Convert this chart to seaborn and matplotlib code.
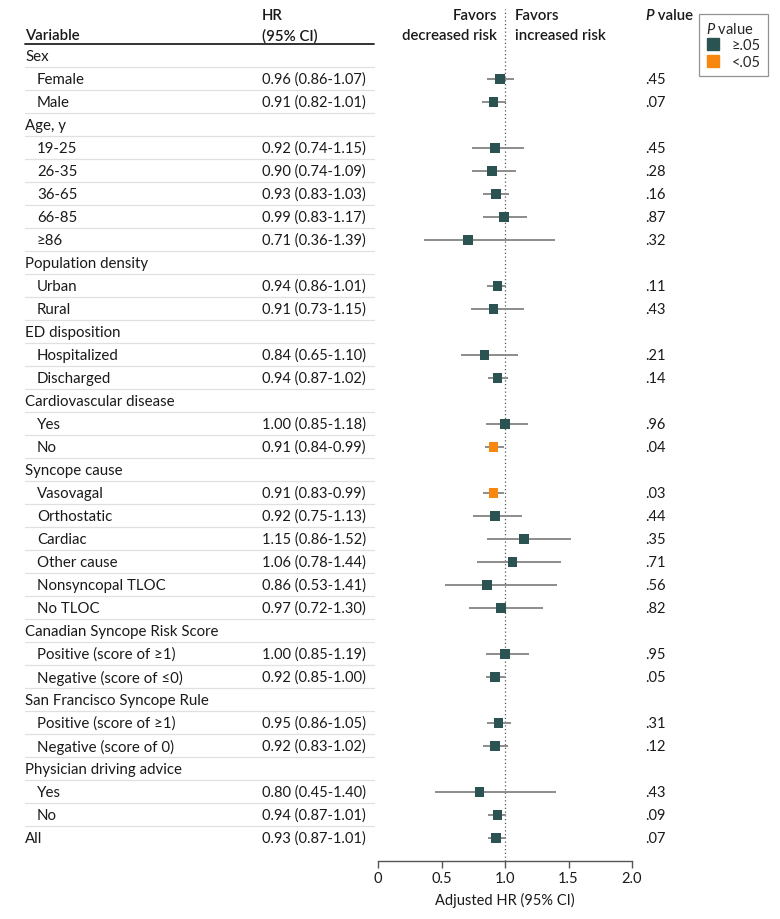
import numpy as np
import pandas as pd
import matplotlib
matplotlib.use("Agg")
import matplotlib.pyplot as plt
import matplotlib.transforms as mtransforms
from matplotlib.lines import Line2D
import seaborn as sns

# Rows of the forest plot (level 0 = group heading, 1 = subgroup)
labels = ["Sex", "Female", "Male",
          "Age, y", "19-25", "26-35", "36-65", "66-85", "\u226586",
          "Population density", "Urban", "Rural",
          "ED disposition", "Hospitalized", "Discharged",
          "Cardiovascular disease", "Yes", "No",
          "Syncope cause", "Vasovagal", "Orthostatic", "Cardiac", "Other cause",
          "Nonsyncopal TLOC", "No TLOC",
          "Canadian Syncope Risk Score", "Positive (score of \u22651)", "Negative (score of \u22640)",
          "San Francisco Syncope Rule", "Positive (score of \u22651)", "Negative (score of 0)",
          "Physician driving advice", "Yes", "No",
          "All"]
levels = [0, 1, 1,
          0, 1, 1, 1, 1, 1,
          0, 1, 1,
          0, 1, 1,
          0, 1, 1,
          0, 1, 1, 1, 1, 1, 1,
          0, 1, 1,
          0, 1, 1,
          0, 1, 1,
          0]
nan = np.nan
hr = [nan, 0.96, 0.91,
      nan, 0.92, 0.90, 0.93, 0.99, 0.71,
      nan, 0.94, 0.91,
      nan, 0.84, 0.94,
      nan, 1.00, 0.91,
      nan, 0.91, 0.92, 1.15, 1.06, 0.86, 0.97,
      nan, 1.00, 0.92,
      nan, 0.95, 0.92,
      nan, 0.80, 0.94,
      0.93]
ci_low = [nan, 0.86, 0.82,
          nan, 0.74, 0.74, 0.83, 0.83, 0.36,
          nan, 0.86, 0.73,
          nan, 0.65, 0.87,
          nan, 0.85, 0.84,
          nan, 0.83, 0.75, 0.86, 0.78, 0.53, 0.72,
          nan, 0.85, 0.85,
          nan, 0.86, 0.83,
          nan, 0.45, 0.87,
          0.87]
ci_high = [nan, 1.07, 1.01,
           nan, 1.15, 1.09, 1.03, 1.17, 1.39,
           nan, 1.01, 1.15,
           nan, 1.10, 1.02,
           nan, 1.18, 0.99,
           nan, 0.99, 1.13, 1.52, 1.44, 1.41, 1.30,
           nan, 1.19, 1.00,
           nan, 1.05, 1.02,
           nan, 1.40, 1.01,
           1.01]
p_text = ["", ".45", ".07",
          "", ".45", ".28", ".16", ".87", ".32",
          "", ".11", ".43",
          "", ".21", ".14",
          "", ".96", ".04",
          "", ".03", ".44", ".35", ".71", ".56", ".82",
          "", ".95", ".05",
          "", ".31", ".12",
          "", ".43", ".09",
          ".07"]
x_ticks = [0, 0.5, 1.0, 1.5, 2.0]

teal = "#2a5352"
orange = "#f7870f"
line_gray = "#8c8c8c"
text_col = "#1a1a1a"

df = pd.DataFrame({"label": labels, "level": levels, "hr": hr,
                   "lo": ci_low, "hi": ci_high, "p": p_text})
df["row"] = np.arange(len(df))
df["sig"] = np.where(df["p"].isin([".04", ".03"]), "<.05", "\u2265.05")
pts = df.dropna(subset=["hr"])

sns.set_style("white")
plt.rcParams["font.family"] = ["Lato", "DejaVu Sans"]
plt.rcParams["mathtext.fontset"] = "custom"
plt.rcParams["mathtext.rm"] = "Lato"
plt.rcParams["mathtext.it"] = "Lato:italic"

W, H = 780, 920
fig = plt.figure(figsize=(7.8, 9.2), dpi=100)
ax = fig.add_axes([378 / W, 58 / H, 254 / W, 852 / H])

# CI lines and point estimates
ax.hlines(pts["row"], pts["lo"], pts["hi"], color=line_gray, lw=1.4, zorder=2)
sns.scatterplot(data=pts, x="hr", y="row", hue="sig", marker="s", s=48,
                palette={"\u2265.05": teal, "<.05": orange}, edgecolor="none",
                legend=False, ax=ax, zorder=3)
ax.axvline(1.0, color="#555555", lw=0.9, ls=(0, (1, 2)), zorder=1)

ax.set_xlim(0, 2.0)
ax.set_ylim(35.0, -2.04)
ax.set_xticks(x_ticks)
ax.set_xticklabels(["0", "0.5", "1.0", "1.5", "2.0"], fontsize=10.5, color=text_col)
ax.set_yticks([])
ax.set_xlabel("Adjusted HR (95% CI)", fontsize=10.5, color=text_col, labelpad=5)
ax.set_ylabel("")
for s in ["top", "right", "left"]:
    ax.spines[s].set_visible(False)
ax.spines["bottom"].set_color("#555555")
ax.spines["bottom"].set_linewidth(1.0)
ax.tick_params(axis="x", bottom=True, direction="out", length=5, width=1.0,
               color="#555555", pad=2)

# text columns: x in figure pixels, y in data rows
tr = mtransforms.blended_transform_factory(fig.transFigure, ax.transData)
fs = 10.8
for _, r in df.iterrows():
    x0 = 25 if r["level"] == 0 else 37
    ax.text(x0 / W, r["row"], r["label"], transform=tr, va="center", ha="left",
            fontsize=fs, color=text_col, clip_on=False)
    if not np.isnan(r["hr"]):
        ax.text(262 / W, r["row"], f"{r['hr']:.2f} ({r['lo']:.2f}-{r['hi']:.2f})",
                transform=tr, va="center", ha="left", fontsize=10.5, color=text_col,
                clip_on=False)
        ax.text(645 / W, r["row"], r["p"], transform=tr, va="center", ha="left",
                fontsize=10.5, color=text_col, clip_on=False)

# row separators
for i in range(len(df) - 1):
    ax.plot([25 / W, 374 / W], [i + 0.5, i + 0.5], transform=tr, color="#e0e0e0",
            lw=0.9, clip_on=False)
ax.plot([25 / W, 374 / W], [-0.5, -0.5], transform=tr, color="#222222", lw=1.3,
        clip_on=False)

# header
hfs = 10.8
hw = "semibold"
ax.text(25 / W, -0.9, "Variable", transform=tr, va="center", ha="left",
        fontsize=hfs, fontweight=hw, color=text_col, clip_on=False)
ax.text(262 / W, -1.8, "HR", transform=tr, va="center", ha="left",
        fontsize=hfs, fontweight=hw, color=text_col, clip_on=False)
ax.text(262 / W, -0.9, "(95% CI)", transform=tr, va="center", ha="left",
        fontsize=hfs, fontweight=hw, color=text_col, clip_on=False)
ax.text(497 / W, -1.8, "Favors", transform=tr, va="center", ha="right",
        fontsize=hfs, fontweight=hw, color=text_col, clip_on=False)
ax.text(497 / W, -0.9, "decreased risk", transform=tr, va="center", ha="right",
        fontsize=hfs, fontweight=hw, color=text_col, clip_on=False)
ax.text(515 / W, -1.8, "Favors", transform=tr, va="center", ha="left",
        fontsize=hfs, fontweight=hw, color=text_col, clip_on=False)
ax.text(515 / W, -0.9, "increased risk", transform=tr, va="center", ha="left",
        fontsize=hfs, fontweight=hw, color=text_col, clip_on=False)
pt = ax.text(645 / W, -1.8, "P", transform=tr, va="center", ha="left",
             fontsize=hfs, fontweight=hw, fontstyle="italic", color=text_col,
             clip_on=False)
ax.annotate(" value", xy=(1, 0.5), xycoords=pt, va="center", ha="left",
            fontsize=hfs, fontweight=hw, color=text_col, annotation_clip=False)

# legend
handles = [Line2D([], [], marker="s", ls="none", color=teal, markersize=8),
           Line2D([], [], marker="s", ls="none", color=orange, markersize=8)]
leg = fig.legend(handles, ["\u2265.05", "<.05"], title=r"$\mathit{P}$ value",
                 loc="upper left", bbox_to_anchor=(699 / W, 1 - 15 / H),
                 frameon=True, fancybox=False, edgecolor="#777777",
                 fontsize=10.5, title_fontsize=10.5, handlelength=1.0,
                 handletextpad=0.8, borderpad=0.45, labelspacing=0.2,
                 borderaxespad=0.0)
leg._legend_box.align = "left"
leg.get_frame().set_linewidth(0.9)

fig.savefig("out.png", dpi=100, facecolor="white")
